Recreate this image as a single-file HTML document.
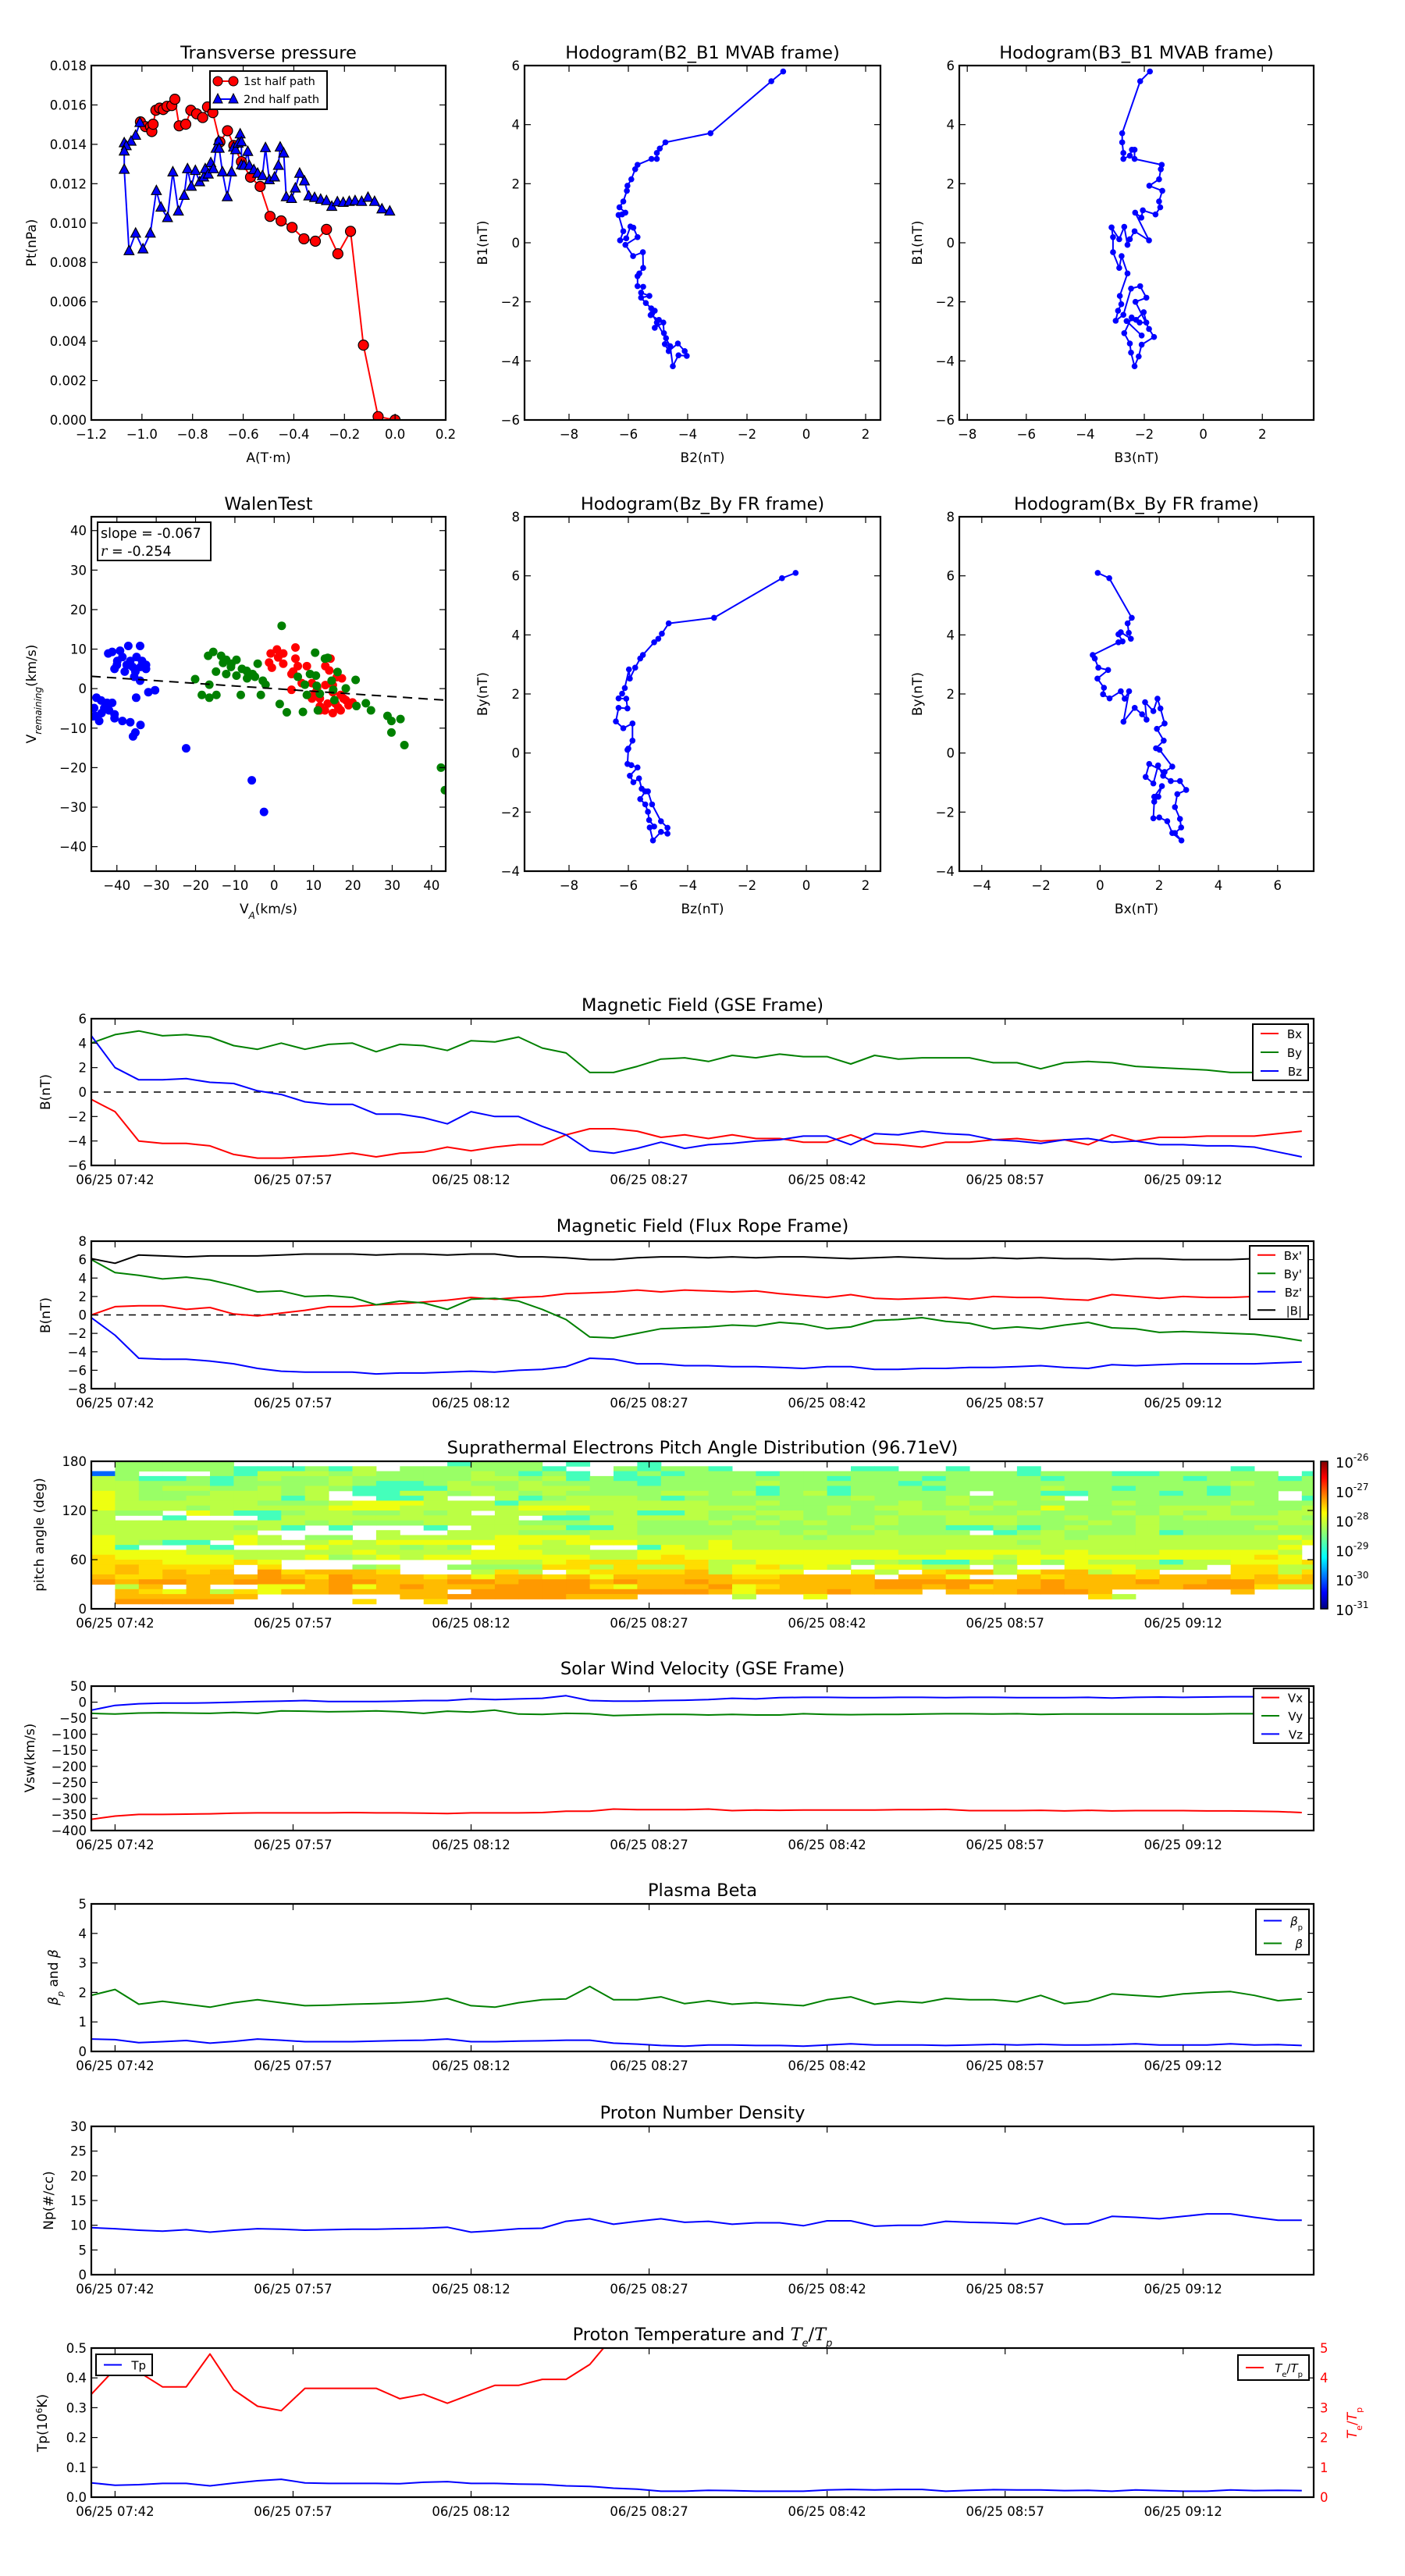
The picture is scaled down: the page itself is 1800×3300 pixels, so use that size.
<!DOCTYPE html>
<html><head><meta charset="utf-8"><title>Flux rope analysis</title>
<style>html,body{margin:0;padding:0;background:#fff}svg{display:block}</style></head>
<body>
<svg id="fig" xmlns="http://www.w3.org/2000/svg" width="1800" height="3300" viewBox="0 0 1800 3300"></svg>
<script>
// ---------------- DATA ----------------
const tGrid=[0,2,4,6,8,10,12,14,16,18,20,22,24,26,28,30,32,34,36,38,40,42,44,46,48,50,52,54,56,58,60,62,64,66,68,70,72,74,76,78,80,82,84,86,88,90,92,94,96,98,100,102];
const timeTicks=[2,17,32,47,62,77,92];
const timeLabels=["06/25 07:42","06/25 07:57","06/25 08:12","06/25 08:27","06/25 08:42","06/25 08:57","06/25 09:12"];
// GSE field
const gseBx=[-0.6,-1.6,-4.0,-4.2,-4.2,-4.4,-5.1,-5.4,-5.4,-5.3,-5.2,-5.0,-5.3,-5.0,-4.9,-4.5,-4.8,-4.5,-4.3,-4.3,-3.5,-3.0,-3.0,-3.2,-3.7,-3.5,-3.8,-3.5,-3.8,-3.8,-4.1,-4.1,-3.5,-4.2,-4.3,-4.5,-4.1,-4.1,-3.9,-3.8,-4.0,-3.9,-4.3,-3.5,-4.0,-3.7,-3.7,-3.6,-3.6,-3.6,-3.4,-3.2];
const gseBy=[4.0,4.7,5.0,4.6,4.7,4.5,3.8,3.5,4.0,3.5,3.9,4.0,3.3,3.9,3.8,3.4,4.2,4.1,4.5,3.6,3.2,1.6,1.6,2.1,2.7,2.8,2.5,3.0,2.8,3.1,2.9,2.9,2.3,3.0,2.7,2.8,2.8,2.8,2.4,2.4,1.9,2.4,2.5,2.4,2.1,2.0,1.9,1.8,1.6,1.6,1.8,1.7];
const gseBz=[4.6,2.0,1.0,1.0,1.1,0.8,0.7,0.1,-0.2,-0.8,-1.0,-1.0,-1.8,-1.8,-2.1,-2.6,-1.6,-2.0,-2.0,-2.8,-3.5,-4.8,-5.0,-4.6,-4.1,-4.6,-4.3,-4.2,-4.0,-3.9,-3.6,-3.6,-4.3,-3.4,-3.5,-3.2,-3.4,-3.5,-3.9,-4.0,-4.2,-3.9,-3.8,-4.1,-4.0,-4.3,-4.3,-4.4,-4.4,-4.5,-4.9,-5.3];
// Flux rope frame
const frBx=[0,0.9,1.0,1.0,0.6,0.8,0.1,-0.1,0.2,0.5,0.9,0.9,1.1,1.2,1.4,1.6,1.9,1.7,1.9,2.0,2.3,2.4,2.5,2.7,2.5,2.7,2.6,2.5,2.6,2.3,2.1,1.9,2.2,1.8,1.7,1.8,1.9,1.7,2.0,1.9,1.9,1.7,1.6,2.2,2.0,1.8,2.0,1.9,1.9,2.0,1.8,2.7];
const frBy=[6.0,4.6,4.3,3.9,4.1,3.8,3.2,2.5,2.6,2.0,2.1,1.9,1.1,1.5,1.3,0.6,1.7,1.8,1.5,0.6,-0.5,-2.4,-2.5,-2.0,-1.5,-1.4,-1.3,-1.1,-1.2,-0.8,-1.0,-1.5,-1.3,-0.6,-0.5,-0.3,-0.7,-0.9,-1.5,-1.3,-1.5,-1.1,-0.8,-1.4,-1.5,-1.9,-1.8,-1.9,-2.0,-2.1,-2.4,-2.8];
const frBz=[-0.3,-2.2,-4.7,-4.8,-4.8,-5.0,-5.3,-5.8,-6.1,-6.2,-6.2,-6.2,-6.4,-6.3,-6.3,-6.2,-6.1,-6.2,-6.0,-5.9,-5.6,-4.7,-4.8,-5.3,-5.3,-5.5,-5.5,-5.6,-5.6,-5.7,-5.8,-5.6,-5.6,-5.9,-5.9,-5.8,-5.8,-5.7,-5.7,-5.6,-5.5,-5.7,-5.8,-5.4,-5.5,-5.4,-5.3,-5.3,-5.3,-5.3,-5.2,-5.1];
const frBt=[6.1,5.6,6.5,6.4,6.3,6.4,6.4,6.4,6.5,6.6,6.6,6.6,6.5,6.6,6.6,6.5,6.6,6.6,6.3,6.3,6.2,6.0,6.0,6.2,6.3,6.3,6.2,6.3,6.2,6.3,6.3,6.2,6.1,6.2,6.3,6.2,6.1,6.1,6.2,6.1,6.2,6.1,6.1,6.0,6.1,6.1,6.0,6.0,6.0,6.1,6.1,6.1];
// Solar wind velocity
const vx=[-365,-355,-350,-350,-349,-348,-346,-345,-345,-345,-345,-344,-345,-345,-346,-347,-345,-345,-345,-344,-340,-340,-333,-335,-335,-335,-333,-338,-336,-337,-336,-336,-336,-336,-335,-335,-334,-338,-338,-338,-337,-339,-337,-339,-338,-338,-338,-339,-339,-340,-341,-344];
const vy=[-35,-37,-34,-33,-34,-35,-32,-35,-27,-28,-30,-29,-27,-30,-35,-28,-31,-25,-37,-38,-35,-36,-42,-40,-38,-38,-40,-38,-40,-40,-36,-38,-39,-38,-38,-37,-36,-36,-37,-36,-38,-37,-37,-37,-37,-37,-37,-37,-36,-36,-36,-34];
const vz=[-25,-10,-5,-3,-3,-2,0,2,3,5,2,2,2,3,5,5,10,8,10,12,20,5,3,3,5,6,8,12,10,14,15,15,14,14,15,15,14,15,15,14,14,14,15,13,15,16,15,16,17,17,18,14];
// Plasma beta
const betaP=[0.42,0.4,0.3,0.33,0.37,0.28,0.34,0.42,0.38,0.33,0.33,0.33,0.35,0.37,0.38,0.42,0.33,0.33,0.35,0.36,0.38,0.38,0.28,0.25,0.2,0.18,0.22,0.22,0.2,0.2,0.18,0.22,0.26,0.22,0.22,0.22,0.2,0.22,0.24,0.22,0.24,0.22,0.22,0.23,0.26,0.22,0.22,0.22,0.26,0.22,0.23,0.2];
const betaT=[1.9,2.1,1.6,1.7,1.6,1.5,1.65,1.75,1.65,1.55,1.57,1.6,1.62,1.65,1.7,1.8,1.55,1.5,1.65,1.75,1.78,2.2,1.75,1.75,1.85,1.62,1.72,1.6,1.65,1.6,1.55,1.75,1.85,1.6,1.7,1.65,1.8,1.75,1.75,1.68,1.9,1.62,1.7,1.95,1.9,1.85,1.95,2.0,2.03,1.9,1.72,1.78];
// Density
const np=[9.5,9.3,9.0,8.8,9.1,8.6,9.0,9.3,9.2,9.0,9.1,9.2,9.2,9.3,9.4,9.6,8.6,8.9,9.3,9.4,10.8,11.3,10.2,10.8,11.3,10.6,10.8,10.2,10.5,10.5,9.9,10.9,10.9,9.8,10.0,10.0,10.8,10.6,10.5,10.3,11.5,10.2,10.3,11.8,11.6,11.3,11.8,12.3,12.3,11.6,11.0,11.0];
// Temperature
const tp=[0.048,0.04,0.042,0.046,0.046,0.038,0.047,0.055,0.06,0.048,0.046,0.046,0.046,0.045,0.05,0.052,0.046,0.046,0.044,0.043,0.038,0.036,0.03,0.027,0.02,0.02,0.023,0.022,0.02,0.02,0.02,0.024,0.026,0.024,0.026,0.026,0.02,0.023,0.025,0.024,0.024,0.022,0.023,0.02,0.024,0.022,0.02,0.02,0.024,0.022,0.023,0.022];
const teTp=[3.45,4.3,4.2,3.7,3.7,4.8,3.6,3.05,2.9,3.65,3.65,3.65,3.65,3.3,3.45,3.15,3.45,3.75,3.75,3.95,3.95,4.45,5.4,6.0,6.2,6.1,6.3,6.2,6.4,6.2,6.3,6.1,6.2,6.4,6.3,6.2,6.3,6.1,6.2,6.3,6.2,6.4,6.3,6.2,6.1,6.3,6.2,6.3,6.4,6.2,6.3,6.2];
// Pitch angle distribution: rows from 180deg (top) to 0deg, 6deg bins, 2-min columns
const padLevels={'b':'#0066ff','C':'#00ccff','c':'#44ffbb','g':'#99ff66','l':'#bbff44','y':'#eeff11','Y':'#ffdd00','o':'#ffbb00','O':'#ff9900'};
const padRows=[
".ggggg.........cggg.c..c..........................",
".gggggcccgcl.ggggggc..gcggc.....cc..c..c........c...",
"bg...gclllglgggglgcgc.cgcgggcggggggggggcgggccggggg.c",
"lgccgcglgglgggggllglcgccgggggggcgggcggggcgggggcgggcg",
"llgggcgggglgccglgglggggcgggglgggggcggggggggggggglggg",
"llgllgglglgccccllglllgggggggcggcgggcgggglggcgggcgggg",
"ylggglllgl.ccllgllglggggllglcglcggggg.ggccgggcgcgg.g",
"ylggllllcl..ccl..lcglllgcggggggglggglgggl.gggggggg.c",
"yllllllggglyyylllcllllllllgglggggglglglgggglgggglggg",
"ylllglllllyyylllllyyylllllllggglgllgglggygggglllgggl",
"lgg.ylccgllgglgl.lllgglcclggllglgglllgglggglglglggll",
"l..c...cllllllllll.cclllllglglggglgglllgglgglglllllg",
"lllllllllglgggllllgggllggglglglgglgglllggglglgggggll",
"llllllglc.c...c.llllcclggggggggglgggccgcglgglgggglgg",
"lllllll.....l..lllgggllggggllglgglggg.cglggglcgggggg",
"ylllllyl.gg.lllllyyyylllllllllgllllllllllgllllllllyl",
"ylgcc.ylllylyyyyyyylyyylllyllllllllllllglllllllllllyl",
"yc..lc...ylllglg.ylll..cylyllllllllllllllllllllllly",
"yyyylllllllyllllyyyllllyyyyyyyyyyyllyyyylylllyyyyyl",
"YyyyyylllyglylyyyyyyyllyYyyyyyyyyyyyyylyyyyyyyyyyYy",
"YYYyyyYy........lllyYYYYYYllyyyyglgcclgygylllcllyyyY",
"YoYYYY.Y...gl..ggggYYlYllYlyYlyl.yyll.l..yyylll.YYll",
"YoYoYo.OYoooY...lYl.yYYYYolyyy..yl.YoolyoolyY...YYlY",
"oYYooooOoYOoooYoyooYoyoooooYYoooo.ooy..oYoooYoooYoYo",
"OoOOooOOOoOOoooOOoOOOoOooOoooooooOOOOOooOoooOooOOooo",
".lo.o..yyoOyoOoooOOOOYyoooOyYooooOOoOYooOoooooOOOYll",
".oYyolYyooOoooo.OOOOOOOOOOoyoooOooo.oooOOOo.....o...",
".oooooo......ooOOOOOooo....l..y...........Yl........",
".OOOOO.....Y..Y...................................."
];
// Transverse pressure
const tpA1=[-1.006,-0.986,-0.966,-0.961,-0.956,-0.945,-0.93,-0.916,-0.901,-0.882,-0.87,-0.853,-0.827,-0.807,-0.784,-0.76,-0.741,-0.72,-0.692,-0.662,-0.637,-0.607,-0.571,-0.533,-0.494,-0.45,-0.407,-0.36,-0.315,-0.271,-0.226,-0.176,-0.125,-0.067,0.0];
const tpPt1=[0.01514,0.0149,0.0149,0.01465,0.01502,0.01573,0.01584,0.01577,0.01593,0.01597,0.01629,0.01494,0.01502,0.01573,0.01555,0.01536,0.0159,0.01561,0.01412,0.01469,0.01394,0.01312,0.01233,0.01186,0.01034,0.01011,0.00978,0.0092,0.00908,0.00968,0.00844,0.00958,0.0038,0.00017,0.0];
const tpA2=[-1.008,-1.025,-1.043,-1.07,-1.062,-1.07,-1.07,-1.051,-1.025,-0.996,-0.967,-0.943,-0.925,-0.899,-0.878,-0.856,-0.833,-0.82,-0.805,-0.789,-0.772,-0.756,-0.75,-0.738,-0.728,-0.718,-0.707,-0.697,-0.695,-0.682,-0.663,-0.646,-0.638,-0.63,-0.62,-0.612,-0.607,-0.607,-0.597,-0.582,-0.576,-0.558,-0.543,-0.524,-0.512,-0.497,-0.476,-0.461,-0.454,-0.44,-0.43,-0.409,-0.394,-0.377,-0.358,-0.341,-0.318,-0.294,-0.271,-0.25,-0.228,-0.205,-0.181,-0.158,-0.132,-0.107,-0.081,-0.052,-0.021];
const tpPt2=[0.0151,0.01445,0.01415,0.01407,0.01392,0.01365,0.01272,0.00859,0.00948,0.00868,0.00948,0.01164,0.0108,0.01027,0.01259,0.0106,0.0114,0.01275,0.01186,0.01266,0.01209,0.01233,0.01275,0.01248,0.01306,0.01275,0.01379,0.01418,0.01379,0.01259,0.01133,0.01259,0.01385,0.01372,0.01405,0.01452,0.01412,0.01295,0.01292,0.01363,0.01292,0.0127,0.01252,0.0124,0.01382,0.01219,0.01233,0.01292,0.01385,0.01355,0.01133,0.01124,0.01177,0.01252,0.01213,0.01137,0.01129,0.0112,0.01113,0.01084,0.01107,0.01104,0.01109,0.01113,0.01109,0.0113,0.01109,0.01071,0.0106];
// Hodograms
const h1B2=[-0.78,-1.18,-3.23,-4.75,-4.94,-5.04,-5.04,-5.22,-5.69,-5.77,-5.9,-6.03,-6.05,-6.17,-6.3,-6.1,-6.21,-6.33,-6.17,-6.28,-6.07,-5.93,-5.83,-5.69,-6.1,-5.84,-5.51,-5.5,-5.63,-5.69,-5.69,-5.5,-5.57,-5.29,-5.57,-5.41,-5.23,-5.11,-5.25,-4.97,-5.11,-4.82,-4.8,-4.73,-4.77,-4.64,-4.33,-4.1,-4.03,-4.31,-4.5,-4.59,-5.04,-5.2];
const h1B1=[5.8,5.47,3.71,3.4,3.19,3.04,2.84,2.84,2.64,2.49,2.15,1.93,1.76,1.4,1.2,1.02,0.96,0.94,0.39,0.08,0.15,0.55,0.51,0.19,-0.07,-0.45,-0.32,-0.85,-1.04,-1.13,-1.47,-1.49,-1.69,-1.8,-1.86,-2.04,-2.22,-2.3,-2.45,-2.61,-2.88,-2.7,-3.06,-3.23,-3.43,-3.67,-3.41,-3.67,-3.83,-3.81,-4.18,-3.5,-2.7,-2.4];
const h2B3=[-1.81,-2.14,-2.75,-2.75,-2.71,-2.71,-2.49,-2.42,-2.33,-2.33,-1.41,-1.44,-1.5,-1.83,-1.39,-1.5,-1.46,-1.62,-2.05,-2.1,-2.31,-1.84,-2.33,-2.49,-2.57,-2.68,-2.85,-3.11,-3.06,-3.06,-2.85,-2.77,-2.57,-2.83,-2.78,-2.89,-2.97,-2.71,-2.45,-2.14,-1.93,-2.3,-1.84,-1.67,-2.09,-2.19,-2.33,-2.45,-2.49,-2.68,-2.43,-2.16,-1.93,-2.02,-2.28,-2.6,-2.09];
const h2B1=[5.8,5.47,3.71,3.4,3.04,2.84,2.95,3.15,3.15,2.84,2.64,2.49,2.15,1.93,1.76,1.4,1.2,0.96,1.1,0.85,1.02,0.08,0.39,0.12,-0.07,0.54,0.12,0.52,0.19,-0.32,-0.85,-0.45,-1.04,-1.8,-2.08,-2.3,-2.64,-2.44,-1.55,-1.47,-1.86,-2.0,-2.92,-3.19,-3.45,-3.85,-4.18,-3.72,-3.41,-3.06,-2.53,-2.7,-2.7,-2.35,-2.61,-2.65,-3.14];
const h3Bz=[-0.36,-0.82,-3.11,-4.64,-4.87,-4.99,-5.13,-5.51,-5.6,-5.77,-5.95,-5.98,-6.12,-6.21,-6.33,-6.07,-6.03,-6.33,-6.42,-6.17,-5.86,-5.86,-6.03,-6.0,-6.03,-5.9,-5.69,-5.95,-5.83,-5.64,-5.55,-5.43,-5.6,-5.43,-5.34,-5.3,-5.13,-5.28,-5.17,-4.9,-4.68,-4.68,-4.9,-5.2,-5.34];
const h3By=[6.1,5.92,4.58,4.39,4.04,3.87,3.75,3.32,3.2,2.89,2.52,2.83,2.2,2.01,1.85,1.84,1.51,1.53,1.07,0.84,1.0,0.42,0.11,0.15,-0.37,-0.41,-0.49,-0.77,-0.99,-0.86,-1.21,-1.3,-1.56,-1.74,-1.99,-2.27,-2.49,-2.52,-2.96,-2.67,-2.73,-2.53,-2.31,-1.74,-1.3];
const h4Bx=[-0.08,0.31,1.07,0.93,0.97,1.04,0.7,0.62,0.76,0.62,-0.25,-0.18,-0.06,0.27,-0.09,0.13,0.1,0.32,0.7,0.83,0.98,0.79,1.17,1.42,1.57,1.52,1.8,1.94,2.04,2.18,1.92,2.15,1.89,2.01,2.44,2.18,1.66,1.54,1.8,1.96,2.13,2.39,2.7,2.91,2.61,2.53,2.7,2.74,2.53,2.75,2.44,2.27,2.0,1.8,1.83,1.97,2.09,1.83];
const h4By=[6.1,5.92,4.58,4.39,4.07,3.87,4.09,4.02,3.78,3.75,3.32,3.2,2.89,2.81,2.52,2.21,1.99,1.85,2.09,1.84,2.09,1.06,1.53,1.31,1.13,1.72,1.42,1.84,1.51,1.0,0.82,0.42,0.16,0.11,-0.46,-0.64,-0.37,-0.81,-1.03,-0.42,-0.77,-0.95,-0.95,-1.25,-1.39,-1.83,-2.23,-2.52,-2.71,-2.96,-2.71,-2.31,-2.18,-2.21,-1.65,-1.48,-1.12,-1.48];
// Walen test
const walBx=[-42.2,-41.2,-39.2,-37.1,-34.1,-40.6,-38,-35.3,-32.6,-34.1,-35.6,-39.9,-36.6,-33.6,-32.6,-38.6,-35,-40,-37.5,-36,-34,-32,-30.3,-35.1,-45.2,-45.8,-44.5,-42.5,-41.2,-43.9,-40.6,-40.6,-38.6,-36.6,-34,-35.3,-35.9,-45.5,-43.2,-44,-46,-42,-22.4,-5.7,-2.6];
const walBy=[8.9,9.3,9.6,10.8,10.8,5.0,4.3,4.3,5.0,2.0,3.0,7.0,7.0,7.0,6.0,8.0,8.0,6.0,6.0,5.5,5.5,-0.9,-0.4,-2.3,-2.3,-4.9,-8.2,-3.6,-3.6,-6.2,-6.5,-7.5,-8.2,-8.5,-9.2,-11.1,-12.1,-6.9,-4.9,-3.0,-7.0,-5.5,-15.1,-23.2,-31.2];
const walGx=[-20.1,-16.5,-18.4,-16.5,-14.7,-16.8,-15.5,-14.8,-13.5,-12.2,-10.9,-9.6,-8.2,-6.9,-5.5,-4.2,-2.9,-2.2,-12.2,-9.6,-6.9,-4.9,-8.5,-3.4,1.9,1.4,3.2,7.3,6.0,7.8,8.3,9.1,10.4,10.6,10.8,11.1,11.6,12.9,13.6,14.6,15.0,15.3,16.1,18.2,20.7,20.9,23.3,24.6,28.8,29.8,29.8,32.1,33.1,42.4,43.4,-11,-7,-13];
const walGy=[2.4,1.0,-1.6,-2.3,-1.6,8.3,9.3,4.3,8.3,7.3,6.3,7.3,5.0,4.3,3.7,6.3,2.0,1.0,3.7,3.3,2.6,3.0,-1.6,-1.6,15.9,-3.9,-6.0,-5.9,3.0,1.0,-1.6,3.7,9.1,3.3,0.7,-5.5,-1.3,7.6,7.8,2.0,-0.3,-2.9,4.2,0.05,2.2,-4.4,-3.7,-5.5,-6.9,-8.2,-11.1,-7.7,-14.3,-20.0,-25.7,5.5,4.5,6.5];
const walRx=[-0.9,0.7,2.3,-1.3,1.0,-0.6,2.3,5.4,5.4,4.8,6.0,8.3,4.4,7.0,9.6,4.4,14.3,13.0,14.0,17.2,15.9,13.0,10.3,11.6,12.9,14.9,16.9,18.9,19.9,17.6,15.6,13.6,11.6,16.3,14.9,16.9,18.2,11.6,9.6,10.9,14.9];
const walRy=[8.9,9.9,8.9,6.6,7.9,5.3,6.3,10.4,7.6,4.3,5.7,5.7,3.7,1.4,1.4,-0.3,7.6,5.7,4.6,2.6,2.9,0.9,-1.2,-2.5,-5.5,-6.2,-5.5,-4.2,-3.5,-2.5,-3.8,-3.8,-4.5,-4.8,-0.9,-1.6,-2.9,-5.5,-2.5,0.2,0.9];
const walFit=[-0.067,0.0];
const walXRange=[-46.5,43.6];

// ---------------- DRAWING ----------------
const NS="http://www.w3.org/2000/svg";
const svg=document.getElementById('fig');
const FONT='"DejaVu Sans","Liberation Sans",sans-serif';
const TS=16.5, TITLE=22.5, LAB=17;
function mk(tag,parent,name,attrs){
  const e=document.createElementNS(NS,tag);
  
  
  for(const k in attrs) e.setAttribute(k,attrs[k]);
  parent.appendChild(e);
  return e;
}
function txt(parent,name,x,y,s,size,anchor,extra){
  const a={x:x,y:y,'font-size':size,'font-family':FONT,'text-anchor':anchor||'middle',fill:'#000'};
  if(extra) for(const k in extra) a[k]=extra[k];
  const t=mk('text',parent,name,a);
  t.textContent=s;
  return t;
}
let clipN=0;
function axes(name,x,y,w,h,xmin,xmax,ymin,ymax){
  const g=mk('g',svg,name,{});
  const id='clip'+(clipN++);
  const cp=mk('clipPath',g,name+'-clip',{id:id});
  mk('rect',cp,name+'-clip-rect',{x:x,y:y,width:w,height:h});
  const data=mk('g',g,name+'-plot-area',{'clip-path':'url(#'+id+')'});
  return {g:g,data:data,x:x,y:y,w:w,h:h,
    sx:v=>x+(v-xmin)/(xmax-xmin)*w, sy:v=>y+h-(v-ymin)/(ymax-ymin)*h};
}
function frame(ax){ mk('rect',ax.g,'axes-frame',{x:ax.x,y:ax.y,width:ax.w,height:ax.h,fill:'none',stroke:'#000','stroke-width':2.2}); }
function xticks(ax,vals,labels,opt){
  opt=opt||{};
  vals.forEach((v,i)=>{
    const px=ax.sx(v);
    mk('line',ax.g,'x-tick',{x1:px,x2:px,y1:ax.y+ax.h,y2:ax.y+ax.h-8,stroke:'#000','stroke-width':1.2});
    mk('line',ax.g,'x-tick-top',{x1:px,x2:px,y1:ax.y,y2:ax.y+8,stroke:'#000','stroke-width':1.2});
    if(labels) txt(ax.g,'x-tick-label',px,ax.y+ax.h+(opt.dy||24),labels[i],TS);
  });
}
function yticks(ax,vals,labels,opt){
  opt=opt||{};
  vals.forEach((v,i)=>{
    const py=ax.sy(v);
    mk('line',ax.g,'y-tick',{x1:ax.x,x2:ax.x+8,y1:py,y2:py,stroke:'#000','stroke-width':1.2});
    if(!opt.noRight) mk('line',ax.g,'y-tick-right',{x1:ax.x+ax.w,x2:ax.x+ax.w-8,y1:py,y2:py,stroke:'#000','stroke-width':1.2});
    if(labels) txt(ax.g,'y-tick-label',ax.x-6,py+6,labels[i],TS,'end');
  });
}
function poly(ax,xs,ys,color,name,w,dash){
  const n=Math.min(xs.length,ys.length);
  let pts=[];
  for(let i=0;i<n;i++) pts.push(ax.sx(xs[i]).toFixed(1)+','+ax.sy(ys[i]).toFixed(1));
  const a={points:pts.join(' '),fill:'none',stroke:color,'stroke-width':w||2,'stroke-linejoin':'round'};
  if(dash) a['stroke-dasharray']=dash;
  return mk('polyline',ax.data,name,a);
}
function dots(ax,xs,ys,color,r,name,stroke){
  const n=Math.min(xs.length,ys.length);
  for(let i=0;i<n;i++){
    const c=mk('circle',ax.data,name,{cx:ax.sx(xs[i]),cy:ax.sy(ys[i]),r:r,fill:color});
    if(stroke){c.setAttribute('stroke',stroke);c.setAttribute('stroke-width',1.2);}
  }
}
function tris(ax,xs,ys,color,s,name){
  const n=Math.min(xs.length,ys.length);
  for(let i=0;i<n;i++){
    const cx=ax.sx(xs[i]),cy=ax.sy(ys[i]);
    mk('polygon',ax.data,name,{points:`${cx},${cy-s} ${cx-s*0.9},${cy+s*0.7} ${cx+s*0.9},${cy+s*0.7}`,fill:color,stroke:'#000','stroke-width':1.2});
  }
}
function ylabel(g,name,x,y,content){
  const t=mk('text',g,name,{x:0,y:0,'font-size':LAB,'font-family':FONT,'text-anchor':'middle',transform:`translate(${x},${y}) rotate(-90)`});
  if(typeof content==='string') t.textContent=content; else content(t);
  return t;
}
function tspan(t,name,s,attrs){const e=mk('tspan',t,name,attrs||{}); e.textContent=s; return e;}
function legend(g,name,x,y,w,h,items,fs){
  const lg=mk('g',g,name,{});
  mk('rect',lg,'legend-box',{x:x,y:y,width:w,height:h,fill:'#fff',stroke:'#000','stroke-width':2});
  const step=h/items.length;
  items.forEach((it,i)=>{
    const cy=y+step*(i+0.5);
    mk('line',lg,'legend-line',{x1:x+10,x2:x+33,y1:cy,y2:cy,stroke:it[1],'stroke-width':2});
    const t=txt(lg,'legend-entry',x+w-8,cy+6,'',fs||16,'end');
    if(typeof it[0]==='string') t.textContent=it[0]; else it[0](t);
  });
  return lg;
}

// ===== Top row =====
const Y1T=84,Y1B=538,Y2T=662,Y2B=1116;
const C1=[117,571],C2=[672,1128],C3=[1229,1683];
// Transverse pressure
(function(){
  const ax=axes('transverse-pressure-chart',C1[0],Y1T,C1[1]-C1[0],Y1B-Y1T,-1.2,0.2,0,0.018);
  poly(ax,tpA1,tpPt1,'#ff0000','first-half-path-line',2);
  poly(ax,tpA2,tpPt2,'#0000ff','second-half-path-line',2);
  dots(ax,tpA1,tpPt1,'#ff0000',6.5,'first-half-path-marker','#000');
  tris(ax,tpA2,tpPt2,'#0000ff',7,'second-half-path-marker');
  frame(ax);
  xticks(ax,[-1.2,-1.0,-0.8,-0.6,-0.4,-0.2,0,0.2],["−1.2","−1.0","−0.8","−0.6","−0.4","−0.2","0.0","0.2"]);
  yticks(ax,[0,0.002,0.004,0.006,0.008,0.01,0.012,0.014,0.016,0.018],["0.000","0.002","0.004","0.006","0.008","0.010","0.012","0.014","0.016","0.018"]);
  txt(ax.g,'chart-title',(C1[0]+C1[1])/2,75,'Transverse pressure',TITLE);
  txt(ax.g,'x-axis-title',(C1[0]+C1[1])/2,592,'A(T·m)',LAB);
  ylabel(ax.g,'y-axis-title',46,(Y1T+Y1B)/2,'Pt(nPa)');
  const lg=mk('g',ax.g,'legend',{});
  mk('rect',lg,'legend-box',{x:269,y:91,width:150,height:49,fill:'#fff',stroke:'#000','stroke-width':2});
  mk('line',lg,'legend-line',{x1:279,x2:299,y1:104,y2:104,stroke:'#ff0000','stroke-width':2});
  mk('circle',lg,'legend-marker',{cx:279,cy:104,r:6,fill:'#ff0000',stroke:'#000'});
  mk('circle',lg,'legend-marker',{cx:299,cy:104,r:6,fill:'#ff0000',stroke:'#000'});
  txt(lg,'legend-entry',312,109,'1st half path',14.5,'start');
  mk('line',lg,'legend-line',{x1:279,x2:299,y1:127,y2:127,stroke:'#0000ff','stroke-width':2});
  mk('polygon',lg,'legend-marker',{points:'279,120 273,132 285,132',fill:'#0000ff',stroke:'#000'});
  mk('polygon',lg,'legend-marker',{points:'299,120 293,132 305,132',fill:'#0000ff',stroke:'#000'});
  txt(lg,'legend-entry',312,132,'2nd half path',14.5,'start');
})();
function hodo(name,col,top,bot,xr,yr,xs,ys,xt,yt,title,xl,yl){
  const ax=axes(name,col[0],top,col[1]-col[0],bot-top,xr[0],xr[1],yr[0],yr[1]);
  poly(ax,xs,ys,'#0000ff',name+'-path',2);
  dots(ax,xs,ys,'#0000ff',3.8,name+'-point');
  frame(ax);
  xticks(ax,xt,xt.map(v=>v<0?'−'+(-v):String(v)));
  yticks(ax,yt,yt.map(v=>v<0?'−'+(-v):String(v)));
  txt(ax.g,'chart-title',(col[0]+col[1])/2,top-9,title,TITLE);
  txt(ax.g,'x-axis-title',(col[0]+col[1])/2,bot+54,xl,LAB);
  ylabel(ax.g,'y-axis-title',col[0]-48,(top+bot)/2,yl);
}
hodo('hodogram-b2-b1',C2,Y1T,Y1B,[-9.5,2.5],[-6,6],h1B2,h1B1,[-8,-6,-4,-2,0,2],[-6,-4,-2,0,2,4,6],'Hodogram(B2_B1 MVAB frame)','B2(nT)','B1(nT)');
hodo('hodogram-b3-b1',C3,Y1T,Y1B,[-8.27,3.74],[-6,6],h2B3,h2B1,[-8,-6,-4,-2,0,2],[-6,-4,-2,0,2,4,6],'Hodogram(B3_B1 MVAB frame)','B3(nT)','B1(nT)');
hodo('hodogram-bz-by',C2,Y2T,Y2B,[-9.5,2.5],[-4,8],h3Bz,h3By,[-8,-6,-4,-2,0,2],[-4,-2,0,2,4,6,8],'Hodogram(Bz_By FR frame)','Bz(nT)','By(nT)');
hodo('hodogram-bx-by',C3,Y2T,Y2B,[-4.76,7.22],[-4,8],h4Bx,h4By,[-4,-2,0,2,4,6],[-4,-2,0,2,4,6,8],'Hodogram(Bx_By FR frame)','Bx(nT)','By(nT)');
// Walen test
(function(){
  const ax=axes('walen-test-chart',C1[0],Y2T,C1[1]-C1[0],Y2B-Y2T,walXRange[0],walXRange[1],-46.2,43.5);
  dots(ax,walBx,walBy,'#0000ff',5.5,'walen-point-blue');
  dots(ax,walRx,walRy,'#ff0000',5.5,'walen-point-red');
  dots(ax,walGx,walGy,'#008000',5.5,'walen-point-green');
  const fx=[walXRange[0],walXRange[1]];
  const fy=fx.map(v=>walFit[0]*v+walFit[1]);
  poly(ax,fx,fy,'#000','fit-line',2,'12,8');
  frame(ax);
  const tv=[-40,-30,-20,-10,0,10,20,30,40];
  xticks(ax,tv,tv.map(v=>v<0?'−'+(-v):String(v)));
  yticks(ax,tv,tv.map(v=>v<0?'−'+(-v):String(v)));
  txt(ax.g,'chart-title',(C1[0]+C1[1])/2,Y2T-9,'WalenTest',TITLE);
  const xl=txt(ax.g,'x-axis-title',(C1[0]+C1[1])/2,Y2B+54,'V',LAB);
  tspan(xl,'subscript','A',{'font-size':12,'font-style':'italic','baseline-shift':'sub'});
  tspan(xl,'unit','(km/s)');
  ylabel(ax.g,'y-axis-title',46,(Y2T+Y2B)/2,t=>{tspan(t,'v','V');tspan(t,'subscript','remaining',{'font-size':12,'font-style':'italic','baseline-shift':'sub'});tspan(t,'unit','(km/s)');});
  const bx=mk('g',ax.g,'fit-stats-box',{});
  mk('rect',bx,'stats-box',{x:125,y:669,width:145,height:49,fill:'#fff',stroke:'#000','stroke-width':2});
  txt(bx,'slope-text',129,689,'slope = -0.067',17.5,'start');
  const r=txt(bx,'r-text',129,712,'',17.5,'start');
  tspan(r,'r-symbol','r',{'font-style':'italic','font-family':'"DejaVu Serif",serif'});
  tspan(r,'r-value',' = -0.254');
})();

// ===== Time series =====
const X0=117,X1=1683,T0=0,T1=103;
function tsAxes(name,top,bot,ymin,ymax,title,titleY){
  const ax=axes(name,X0,top,X1-X0,bot-top,T0,T1,ymin,ymax);
  return ax;
}
function finishTS(ax,yv,yl,title,titleY){
  frame(ax);
  xticks(ax,timeTicks,timeLabels,{dy:24});
  yticks(ax,yv,yl);
  if(typeof title==='string') txt(ax.g,'chart-title',(X0+X1)/2,titleY,title,TITLE);
  else { const t=txt(ax.g,'chart-title',(X0+X1)/2,titleY,'',TITLE); title(t); }
}
const lbl=a=>a.map(v=>v<0?'−'+(-v):String(v));
// GSE
(function(){
  const ax=tsAxes('magnetic-field-gse-chart',1305,1493,-6,6);
  poly(ax,[T0,T1],[0,0],'#000','zero-line',1.5,'9,7');
  poly(ax,tGrid,gseBx,'#ff0000','bx-line');
  poly(ax,tGrid,gseBy,'#008000','by-line');
  poly(ax,tGrid,gseBz,'#0000ff','bz-line');
  finishTS(ax,[-6,-4,-2,0,2,4,6],lbl([-6,-4,-2,0,2,4,6]),'Magnetic Field (GSE Frame)',1295);
  ylabel(ax.g,'y-axis-title',64,1399,'B(nT)');
  legend(ax.g,'legend',1605,1312,71,72,[['Bx','#ff0000'],['By','#008000'],['Bz','#0000ff']],15);
})();
// FR
(function(){
  const ax=tsAxes('magnetic-field-fr-chart',1590,1779,-8,8);
  poly(ax,[T0,T1],[0,0],'#000','zero-line',1.5,'9,7');
  poly(ax,tGrid,frBx,'#ff0000','bx-prime-line');
  poly(ax,tGrid,frBy,'#008000','by-prime-line');
  poly(ax,tGrid,frBz,'#0000ff','bz-prime-line');
  poly(ax,tGrid,frBt,'#000','b-magnitude-line');
  finishTS(ax,[-8,-6,-4,-2,0,2,4,6,8],lbl([-8,-6,-4,-2,0,2,4,6,8]),'Magnetic Field (Flux Rope Frame)',1578);
  ylabel(ax.g,'y-axis-title',64,1685,'B(nT)');
  legend(ax.g,'legend',1601,1596,75,94,[["Bx'",'#ff0000'],["By'",'#008000'],["Bz'",'#0000ff'],['|B|','#000']],15);
})();
// PAD
(function(){
  const ax=tsAxes('pitch-angle-distribution-chart',1872,2061,0,180);
  padRows.forEach((row,r)=>{
    for(let c=0;c<Math.min(row.length,tGrid.length);c++){
      const col=padLevels[row[c]];
      if(!col) continue;
      const x0=ax.sx(tGrid[c]), x1=ax.sx(tGrid[c]+2);
      const yA=ax.sy(180-6*r), yB=ax.sy(174-6*r);
      mk('rect',ax.data,'pad-cell',{x:x0.toFixed(1),y:yA.toFixed(1),width:(x1-x0+0.5).toFixed(1),height:(yB-yA+0.5).toFixed(1),fill:col});
    }
  });
  finishTS(ax,[0,60,120,180],['0','60','120','180'],'Suprathermal Electrons Pitch Angle Distribution (96.71eV)',1862);
  ylabel(ax.g,'y-axis-title',56,1966,'pitch angle (deg)');
  // colorbar
  const cb=mk('g',ax.g,'colorbar',{});
  const defs=mk('defs',cb,'colorbar-defs',{});
  const lg=mk('linearGradient',defs,'jet-gradient',{id:'jet',x1:0,y1:1,x2:0,y2:0});
  [['0','#00007f'],['0.11','#0000ff'],['0.35','#00ffff'],['0.5','#80ff80'],['0.65','#ffff00'],['0.89','#ff0000'],['1','#7f0000']].forEach(s=>{
    mk('stop',lg,'gradient-stop',{offset:s[0],'stop-color':s[1]});
  });
  mk('rect',cb,'colorbar-bar',{x:1692,y:1872,width:9,height:189,fill:'url(#jet)',stroke:'#000','stroke-width':1.5});
  const exps=['-26','-27','-28','-29','-30','-31'];
  exps.forEach((e,i)=>{
    const y=1872+i*189/5;
    const t=txt(cb,'colorbar-label',1711,y+8,'10',18,'start');
    tspan(t,'exponent',e,{'font-size':12,dy:-9});
  });
})();
// Velocity
(function(){
  const ax=tsAxes('solar-wind-velocity-chart',2160,2345,-400,50);
  poly(ax,tGrid,vx,'#ff0000','vx-line');
  poly(ax,tGrid,vy,'#008000','vy-line');
  poly(ax,tGrid,vz,'#0000ff','vz-line');
  const v=[-400,-350,-300,-250,-200,-150,-100,-50,0,50];
  finishTS(ax,v,lbl(v),'Solar Wind Velocity (GSE Frame)',2145);
  ylabel(ax.g,'y-axis-title',44,2252,'Vsw(km/s)');
  legend(ax.g,'legend',1606,2163,71,70,[['Vx','#ff0000'],['Vy','#008000'],['Vz','#0000ff']],15);
})();
// Beta
(function(){
  const ax=tsAxes('plasma-beta-chart',2439,2628,0,5);
  poly(ax,tGrid,betaP,'#0000ff','beta-p-line');
  poly(ax,tGrid,betaT,'#008000','beta-line');
  finishTS(ax,[0,1,2,3,4,5],['0','1','2','3','4','5'],'Plasma Beta',2429);
  ylabel(ax.g,'y-axis-title',74,2533,t=>{tspan(t,'beta-p','β',{'font-style':'italic'});tspan(t,'sub','p',{'font-size':11,'font-style':'italic','baseline-shift':'sub'});tspan(t,'and',' and ');tspan(t,'beta','β',{'font-style':'italic'});});
  legend(ax.g,'legend',1609,2446,68,58,[[t=>{tspan(t,'b','β',{'font-style':'italic'});tspan(t,'s','p',{'font-size':10,'baseline-shift':'sub'});},'#0000ff'],[t=>{tspan(t,'b','β',{'font-style':'italic'});},'#008000']],15);
})();
// Density
(function(){
  const ax=tsAxes('proton-density-chart',2724,2914,0,30);
  poly(ax,tGrid,np,'#0000ff','np-line');
  finishTS(ax,[0,5,10,15,20,25,30],['0','5','10','15','20','25','30'],'Proton Number Density',2714);
  ylabel(ax.g,'y-axis-title',68,2819,'Np(#/cc)');
})();
// Temperature
(function(){
  const ax=tsAxes('proton-temperature-chart',3008,3199,0,0.5);
  poly(ax,tGrid,tp,'#0000ff','tp-line');
  const ax2={data:ax.data,sx:ax.sx,sy:v=>3199-(v/5)*191};
  poly(ax2,tGrid,teTp,'#ff0000','te-tp-line');
  finishTS(ax,[0,0.1,0.2,0.3,0.4,0.5],['0.0','0.1','0.2','0.3','0.4','0.5'],t=>{
    tspan(t,'title-text','Proton Temperature and ');
    tspan(t,'te','T',{'font-style':'italic','font-family':'"DejaVu Serif",serif'});
    tspan(t,'te-sub','e',{'font-size':13,'font-style':'italic','baseline-shift':'sub'});
    tspan(t,'slash','/');
    tspan(t,'tp','T',{'font-style':'italic','font-family':'"DejaVu Serif",serif'});
    tspan(t,'tp-sub','p',{'font-size':13,'font-style':'italic','baseline-shift':'sub'});
  },2998);
  [0,1,2,3,4,5].forEach(v=>{
    const py=3199-v/5*191;
    txt(ax.g,'right-y-tick-label',X1+8,py+6,String(v),TS,'start',{fill:'#ff0000'});
  });
  ylabel(ax.g,'y-axis-title',60,3104,t=>{tspan(t,'tp','Tp(10');tspan(t,'exp','6',{'font-size':11,dy:-6});tspan(t,'k','K)',{dy:6});});
  ylabel(ax.g,'right-y-axis-title',1738,3104,t=>{t.setAttribute('fill','#ff0000');t.setAttribute('transform','translate(1738,3104) rotate(-90)');tspan(t,'te','T',{'font-style':'italic'});tspan(t,'s','e',{'font-size':11,'baseline-shift':'sub'});tspan(t,'sl','/');tspan(t,'tp','T',{'font-style':'italic'});tspan(t,'s2','p',{'font-size':11,'baseline-shift':'sub'});});
  legend(ax.g,'legend-tp',123,3016,72,27,[['Tp','#0000ff']],15);
  legend(ax.g,'legend-te-tp',1586,3017,91,32,[[t=>{tspan(t,'te','T',{'font-style':'italic'});tspan(t,'s','e',{'font-size':10,'baseline-shift':'sub'});tspan(t,'sl','/');tspan(t,'tp','T',{'font-style':'italic'});tspan(t,'s2','p',{'font-size':10,'baseline-shift':'sub'});},'#ff0000']],15);
})();
</script>
</body></html>
